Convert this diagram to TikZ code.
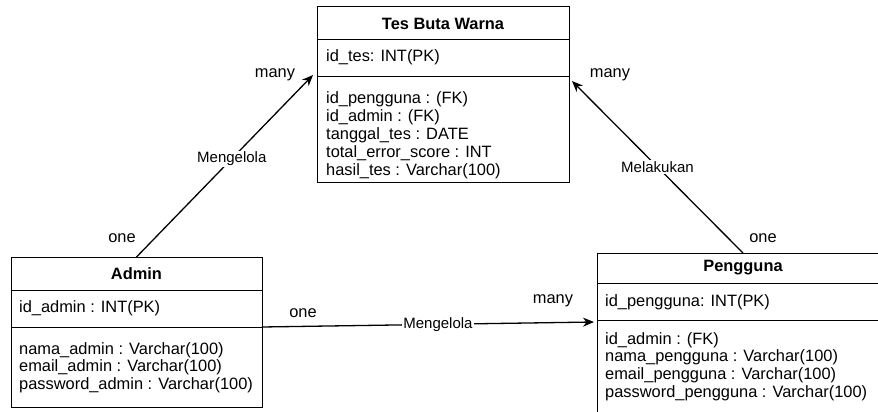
\documentclass[tikz,border=0pt]{standalone}
\usepackage{fontspec}
\setmainfont{Liberation Sans}
\usetikzlibrary{arrows.meta,calc}
\begin{document}
\begin{tikzpicture}[x=1pt,y=-1pt,
  compart/.style={draw=black, line width=1pt, anchor=north west, inner sep=0pt, outer sep=0pt},
  title/.style={font=\fontsize{16.4}{18}\selectfont\bfseries},
  attr/.style={font=\fontsize{16.4}{18}\selectfont, anchor=west, inner sep=0pt, text height=12pt, text depth=4pt},
  rel/.style={draw=black, line width=1.3pt, -{Stealth[length=11pt,width=9pt]}},
  lbl/.style={font=\fontsize{15}{17}\selectfont, fill=white, inner sep=1pt},
  card/.style={font=\fontsize{16.4}{18}\selectfont, inner sep=0pt}
]
\useasboundingbox (0,0) rectangle (878,412);
\begin{scope}
\clip (0,0) rectangle (878,412);

% Tes Buta Warna entity
\node[compart, title, minimum width=252pt, minimum height=33pt] (tes-head) at (317,7) {Tes Buta Warna};
\node[compart, minimum width=252pt, minimum height=37pt] (tes-pk) at (317,40) {};
\node[compart, minimum width=252pt, minimum height=105pt] (tes-body) at (317,77) {};
\node[attr] (tes-k) at (326,58) {id\_tes: INT(PK)};
\foreach \t [count=\i from 0] in {id\_pengguna : (FK), id\_admin : (FK), tanggal\_tes : DATE, total\_error\_score : INT, hasil\_tes : Varchar(100)}
  \node[attr] (tes-a\i) at (326,99+18.1*\i) {\t};

% Admin entity
\node[compart, title, minimum width=251pt, minimum height=33pt] (adm-head) at (11,257) {Admin};
\node[compart, minimum width=251pt, minimum height=37pt] (adm-pk) at (11,290) {};
\node[compart, minimum width=251pt, minimum height=80pt] (adm-body) at (11,327) {};
\node[attr] (adm-k) at (19,308) {id\_admin : INT(PK)};
\foreach \t [count=\i from 0] in {nama\_admin : Varchar(100), email\_admin : Varchar(100), password\_admin : Varchar(100)}
  \node[attr] (adm-a\i) at (19,350+17.5*\i) {\t};

% Pengguna entity
\node[compart, title, minimum width=292pt, minimum height=30pt] (pen-head) at (597,253) {Pengguna};
\node[compart, minimum width=292pt, minimum height=37pt] (pen-pk) at (597,283) {};
\node[compart, minimum width=292pt, minimum height=100pt] (pen-body) at (597,320) {};
\node[attr] (pen-k) at (605,302) {id\_pengguna: INT(PK)};
\foreach \t [count=\i from 0] in {id\_admin : (FK), nama\_pengguna : Varchar(100), email\_pengguna : Varchar(100), password\_pengguna : Varchar(100)}
  \node[attr] (pen-a\i) at (605,340+17.8*\i) {\t};
\end{scope}

% connector end points on the entity borders
\coordinate (tes-in-l) at ($(tes-pk.south west)+(-4,-2)$);
\coordinate (tes-in-r) at ($(tes-pk.south east)+(3,4)$);
\coordinate (pen-in) at ($(pen-body.north west)+(-3,2)$);

% relationships
\draw[rel] (adm-head.north) -- node[lbl, pos=0.54] (r1) {Mengelola} (tes-in-l);
\draw[rel] (pen-head.north) -- node[lbl, pos=0.5] (r2) {Melakukan} (tes-in-r);
\draw[rel] (adm-pk.south east) -- node[lbl, pos=0.53] (r3) {Mengelola} (pen-in);

% cardinalities
\node[card] (c1a) at (122,238) {one};
\node[card] (c1b) at (275,75) {many};
\node[card] (c2a) at (763,238) {one};
\node[card] (c2b) at (610,75) {many};
\node[card] (c3a) at (303,313) {one};
\node[card] (c3b) at (553,301) {many};
\end{tikzpicture}
\end{document}
